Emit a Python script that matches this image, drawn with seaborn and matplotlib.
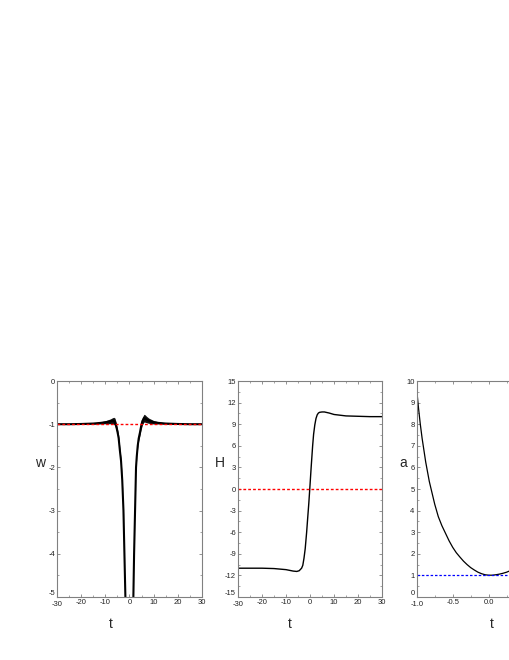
import numpy as np
import pandas as pd
import matplotlib
matplotlib.use("Agg")
import matplotlib.pyplot as plt
from matplotlib.ticker import MultipleLocator, FixedLocator, FormatStrFormatter
import seaborn as sns

# ---- data ----
# panel 1: w(t), two branches diverging near t=0
w_left_t = [-30, -25, -20, -15, -12, -10, -8, -7, -6.5, -6, -5.5, -5.0, -4.5, -4.0,
            -3.5, -3.0, -2.5, -2.1, -1.9, -1.7, -1.6]
w_left = [-1.0, -1.0, -0.995, -0.985, -0.97, -0.955, -0.935, -0.92, -0.92, -0.95,
          -1.05, -1.17, -1.32, -1.6, -1.85, -2.3, -3.0, -4.0, -4.5, -5.0, -5.3]
w_left_spread = [0.0, 0.004, 0.008, 0.015, 0.025, 0.035, 0.055, 0.07, 0.08, 0.09,
                 0.09, 0.08, 0.07, 0.06, 0.05, 0.03, 0.02, 0.01, 0.0, 0.0, 0.0]
w_right_t = [1.4, 1.6, 1.9, 2.3, 2.7, 3.0, 3.4, 3.8, 4.3, 4.8, 5.3, 6.0, 6.5, 7,
             8, 10, 12, 15, 20, 25, 30]
w_right = [-5.3, -5.0, -4.0, -3.0, -2.0, -1.75, -1.5, -1.33, -1.2, -1.05, -0.93,
           -0.86, -0.87, -0.89, -0.92, -0.955, -0.97, -0.985, -0.995, -1.0, -1.0]
w_right_spread = [0.0, 0.0, 0.0, 0.01, 0.02, 0.03, 0.045, 0.06, 0.07, 0.08, 0.09,
                  0.09, 0.085, 0.075, 0.06, 0.04, 0.025, 0.015, 0.008, 0.004, 0.0]
w_ref = -1.0

# panel 2: H(t)
H_t = [-30, -20, -15, -10, -7, -5.5, -4.5, -3.5, -3, -2.5, -2, -1.4, -1, -0.5, 0,
       0.5, 1.1, 1.5, 2, 2.5, 3, 3.5, 4, 5, 6, 8, 10, 15, 20, 25, 30]
H = [-11.0, -11.0, -11.05, -11.2, -11.4, -11.45, -11.35, -11.0, -10.6, -9.6, -8.3,
     -6.0, -4.2, -2.0, 0.5, 3.1, 6.0, 7.6, 8.9, 9.8, 10.3, 10.55, 10.65, 10.7,
     10.7, 10.55, 10.35, 10.15, 10.1, 10.05, 10.05]
H_ref = 0.0

# panel 3: a(t)
a_t = [-1.0, -0.975, -0.95, -0.925, -0.9, -0.875, -0.85, -0.825, -0.8, -0.75, -0.7,
       -0.65, -0.6, -0.55, -0.5, -0.45, -0.4, -0.35, -0.3, -0.25, -0.2, -0.15, -0.1,
       -0.05, 0.0, 0.05, 0.1, 0.15, 0.2, 0.25, 0.3, 0.4, 0.5]
a = [9.6, 8.75, 8.0, 7.35, 6.8, 6.25, 5.8, 5.35, 5.0, 4.3, 3.72, 3.3, 2.95, 2.6,
     2.3, 2.05, 1.85, 1.66, 1.5, 1.36, 1.25, 1.15, 1.08, 1.03, 1.01, 1.01, 1.03,
     1.06, 1.1, 1.15, 1.22, 1.4, 1.65]
a_ref = 1.0

sns.set_style("ticks")
plt.rcParams['font.family'] = ['Liberation Sans', 'DejaVu Sans']
plt.rcParams['axes.unicode_minus'] = False

fig = plt.figure(figsize=(5.1, 6.6), dpi=100)
bottom = 63 / 660
height = 216 / 660
ax1 = fig.add_axes([57 / 510, bottom, 145 / 510, height])
ax2 = fig.add_axes([238 / 510, bottom, 144 / 510, height])
ax3 = fig.add_axes([416.7 / 510, bottom, 144 / 510, height])

spine_col = "#808080"
for ax in (ax1, ax2, ax3):
    for s in ax.spines.values():
        s.set_color(spine_col)
        s.set_linewidth(0.8)
    ax.tick_params(which="both", direction="in", top=True, right=True,
                   colors=spine_col, labelcolor="#222222", labelsize=5.5, pad=1.5)
    ax.tick_params(which="major", length=2.5, width=0.6)
    ax.tick_params(which="minor", length=1.5, width=0.5)

# ---- panel 1 ----
dl = pd.DataFrame({"t": w_left_t, "w": w_left, "s": w_left_spread})
dr = pd.DataFrame({"t": w_right_t, "w": w_right, "s": w_right_spread})
for d in (dl, dr):
    ax1.fill_between(d["t"], d["w"] - d["s"], d["w"] + d["s"], color="#111111", lw=0)
    sns.lineplot(data=d, x="t", y="w", ax=ax1, color="black", lw=1.5, sort=False)
ax1.axhline(w_ref, color="red", lw=1.0, ls=(0, (2, 1.5)))
ax1.set_xlim(-30, 30)
ax1.set_ylim(-5, 0)
ax1.xaxis.set_major_locator(FixedLocator([-30, -20, -10, 0, 10, 20, 30]))
ax1.xaxis.set_minor_locator(MultipleLocator(5))
ax1.yaxis.set_major_locator(FixedLocator([-5, -4, -3, -2, -1, 0]))
ax1.yaxis.set_minor_locator(MultipleLocator(0.5))
ax1.set_ylabel("w", rotation=0, fontsize=10)
ax1.yaxis.set_label_coords(-0.117, 0.59)
ax1.set_xlabel("t", fontsize=10)
ax1.xaxis.set_label_coords(0.37, -0.093)

# ---- panel 2 ----
dH = pd.DataFrame({"t": H_t, "H": H})
sns.lineplot(data=dH, x="t", y="H", ax=ax2, color="black", lw=1.0, sort=False)
ax2.axhline(H_ref, color="red", lw=1.0, ls=(0, (2, 1.5)))
ax2.set_xlim(-30, 30)
ax2.set_ylim(-15, 15)
ax2.xaxis.set_major_locator(FixedLocator([-30, -20, -10, 0, 10, 20, 30]))
ax2.xaxis.set_minor_locator(MultipleLocator(5))
ax2.yaxis.set_major_locator(FixedLocator([-15, -12, -9, -6, -3, 0, 3, 6, 9, 12, 15]))
ax2.yaxis.set_minor_locator(MultipleLocator(1.5))
ax2.set_ylabel("H", rotation=0, fontsize=10)
ax2.yaxis.set_label_coords(-0.125, 0.59)
ax2.set_xlabel("t", fontsize=10)
ax2.xaxis.set_label_coords(0.36, -0.093)

# ---- panel 3 ----
da = pd.DataFrame({"t": a_t, "a": a})
sns.lineplot(data=da, x="t", y="a", ax=ax3, color="black", lw=0.9, sort=False)
ax3.axhline(a_ref, color="blue", lw=0.9, ls=(0, (2, 1.5)))
ax3.set_xlim(-1, 1)
ax3.set_ylim(0, 10)
ax3.xaxis.set_major_locator(FixedLocator([-1.0, -0.5, 0.0]))
ax3.xaxis.set_minor_locator(MultipleLocator(0.25))
ax3.yaxis.set_major_locator(FixedLocator(list(range(0, 11))))
ax3.yaxis.set_minor_locator(MultipleLocator(0.5))
ax3.xaxis.set_major_formatter(FormatStrFormatter("%.1f"))
ax3.set_ylabel("a", rotation=0, fontsize=10)
ax3.yaxis.set_label_coords(-0.095, 0.59)
ax3.set_xlabel("t", fontsize=10)
ax3.xaxis.set_label_coords(0.52, -0.093)

# corner labels: lift lowest y label, lower first x label (as in the reference)
fig.canvas.draw()
for ax in (ax1, ax2, ax3):
    ylo = ax.get_ylim()[0]
    for tk in ax.yaxis.get_major_ticks():
        if abs(tk.get_loc() - ylo) < 1e-9:
            tk.label1.set_verticalalignment("bottom")
    xlo = ax.get_xlim()[0]
    for tk in ax.xaxis.get_major_ticks():
        if abs(tk.get_loc() - xlo) < 1e-9:
            tk.label1.set_y(-0.008)

fig.savefig("out.png", dpi=100)
